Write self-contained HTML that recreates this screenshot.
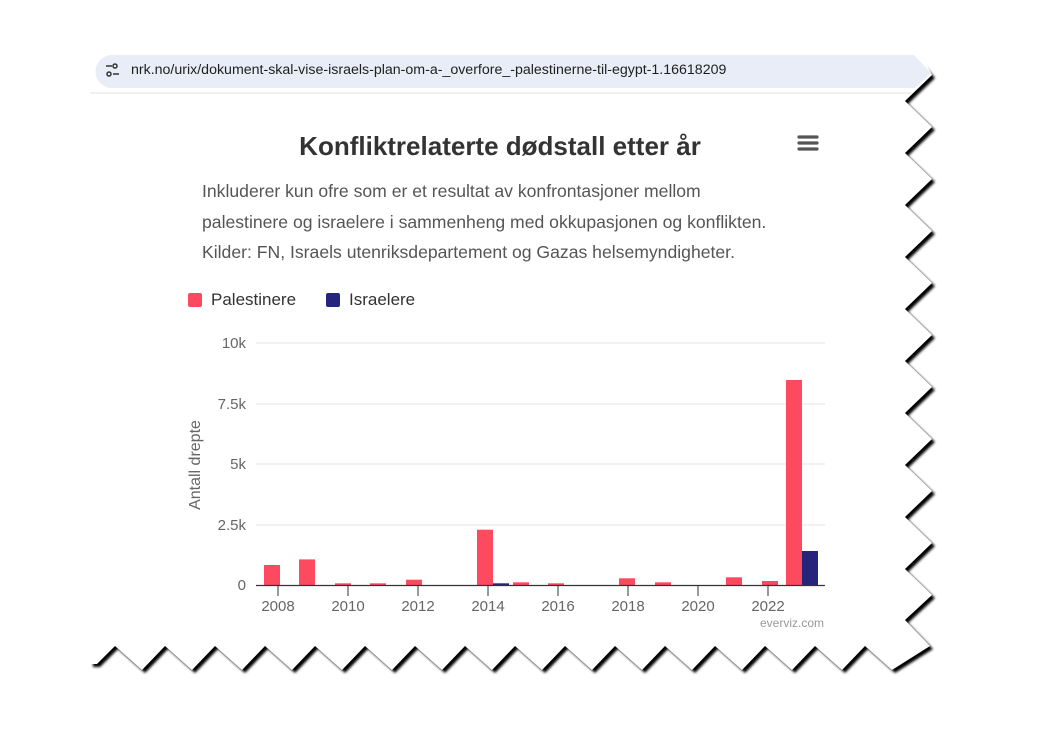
<!DOCTYPE html>
<html><head><meta charset="utf-8"><style>
body{margin:0;width:1050px;height:750px;background:#fff;overflow:hidden;position:relative;font-family:"Liberation Sans",sans-serif}
.t{position:absolute;white-space:nowrap}
</style></head><body>
<svg width="1050" height="750" style="position:absolute;left:0;top:0">
<defs><filter id="b" x="-10%" y="-10%" width="120%" height="120%"><feGaussianBlur stdDeviation="1.3"/></filter></defs>
<polygon fill="#000" filter="url(#b)" transform="translate(3,3)" points="90,53 914,53 932,75 905,101 932,127 905,153 932,179 905,205 932,231 905,257 932,283 905,309 932,335 905,361 932,387 905,413 932,439 905,465 932,491 905,517 932,543 905,569 932,595 905,620 930,646 892,670 865,646 842,670 815,646 792,670 765,646 742,670 715,646 692,670 665,646 642,670 615,646 592,670 565,646 542,670 515,646 492,670 465,646 442,670 415,646 392,670 365,646 342,670 315,646 292,670 265,646 242,670 215,646 192,670 165,646 142,670 115,646 97,664 90,664"/>
<polygon fill="#fff" points="70,40 914,40 932,75 905,101 932,127 905,153 932,179 905,205 932,231 905,257 932,283 905,309 932,335 905,361 932,387 905,413 932,439 905,465 932,491 905,517 932,543 905,569 932,595 905,620 930,646 892,670 865,646 842,670 815,646 792,670 765,646 742,670 715,646 692,670 665,646 642,670 615,646 592,670 565,646 542,670 515,646 492,670 465,646 442,670 415,646 392,670 365,646 342,670 315,646 292,670 265,646 242,670 215,646 192,670 165,646 142,670 115,646 97,664 70,664"/>
<path d="M112,55 H914 L931,73 L915,88 H112 A16.5,16.5 0 0 1 112,55Z" fill="#e8edf7"/>
<line x1="90" y1="93" x2="912" y2="93" stroke="#dde1e6"/>
<g stroke="#333" stroke-width="1.5" fill="none"><line x1="106" y1="66" x2="112" y2="66"/><circle cx="115" cy="66" r="2"/><line x1="113" y1="74" x2="119" y2="74"/><circle cx="109" cy="74" r="2"/></g>
<g stroke="#555" stroke-width="3.2" stroke-linecap="round"><line x1="799" y1="137" x2="817" y2="137"/><line x1="799" y1="143" x2="817" y2="143"/><line x1="799" y1="149" x2="817" y2="149"/></g>
<g stroke="#e6e6e6"><line x1="256" y1="343" x2="825" y2="343"/><line x1="256" y1="404" x2="825" y2="404"/><line x1="256" y1="464" x2="825" y2="464"/><line x1="256" y1="525" x2="825" y2="525"/></g>
<g fill="#fe4a5f">
<rect x="264" y="565" width="16" height="20"/><rect x="299" y="559.4" width="16" height="25.6"/><rect x="335" y="583.3" width="16" height="1.7"/><rect x="370" y="583.3" width="16" height="1.7"/><rect x="406" y="579.7" width="16" height="5.3"/><rect x="477" y="529.7" width="16" height="55.3"/><rect x="513" y="582.3" width="16" height="2.7"/><rect x="548" y="583.3" width="16" height="1.7"/><rect x="619" y="578.3" width="16" height="6.7"/><rect x="655" y="582.3" width="16" height="2.7"/><rect x="726" y="577.3" width="16" height="7.7"/><rect x="762" y="581" width="16" height="4"/><rect x="786" y="380" width="16" height="205"/>
</g>
<g fill="#25267b"><rect x="493" y="583.3" width="16" height="1.7"/><rect x="802" y="551" width="16" height="34"/></g>
<line x1="256" y1="585.5" x2="825" y2="585.5" stroke="#333" stroke-width="1.3"/>
<g stroke="#333"><line x1="278" y1="586" x2="278" y2="596"/><line x1="348" y1="586" x2="348" y2="596"/><line x1="418" y1="586" x2="418" y2="596"/><line x1="488" y1="586" x2="488" y2="596"/><line x1="558" y1="586" x2="558" y2="596"/><line x1="628" y1="586" x2="628" y2="596"/><line x1="698" y1="586" x2="698" y2="596"/><line x1="768" y1="586" x2="768" y2="596"/></g>
<g font-family="Liberation Sans" font-size="15" fill="#666" text-anchor="middle"><text x="278" y="611">2008</text><text x="348" y="611">2010</text><text x="418" y="611">2012</text><text x="488" y="611">2014</text><text x="558" y="611">2016</text><text x="628" y="611">2018</text><text x="698" y="611">2020</text><text x="768" y="611">2022</text></g>
<g font-family="Liberation Sans" font-size="15" fill="#666" text-anchor="end"><text x="246" y="348">10k</text><text x="246" y="409">7.5k</text><text x="246" y="469">5k</text><text x="246" y="530">2.5k</text><text x="246" y="590">0</text></g>
<text x="200" y="465" transform="rotate(-90 200 465)" font-family="Liberation Sans" font-size="16" fill="#666" text-anchor="middle">Antall drepte</text>
<text x="824" y="627" font-family="Liberation Sans" font-size="12" fill="#999" text-anchor="end">everviz.com</text>
<rect x="188" y="293" width="14" height="14" rx="2" fill="#fe4a5f"/><rect x="326" y="293" width="14" height="14" rx="2" fill="#25267b"/>
</svg>
<div class="t" style="left:131px;top:62px;font-size:14.2px;color:#1f1f1f">nrk.no/urix/dokument-skal-vise-israels-plan-om-a-_overfore_-palestinerne-til-egypt-1.16618209</div>
<div class="t" style="left:0;width:1000px;text-align:center;top:131px;font-size:26px;font-weight:bold;color:#333">Konfliktrelaterte dødstall etter år</div>
<div class="t" style="left:202px;top:176px;font-size:17.6px;color:#555;line-height:30.5px">Inkluderer kun ofre som er et resultat av konfrontasjoner mellom<br>palestinere og israelere i sammenheng med okkupasjonen og konflikten.<br>Kilder: FN, Israels utenriksdepartement og Gazas helsemyndigheter.</div>
<div class="t" style="left:211px;top:290px;font-size:17px;color:#333">Palestinere</div>
<div class="t" style="left:349px;top:290px;font-size:17px;color:#333">Israelere</div>
</body></html>
